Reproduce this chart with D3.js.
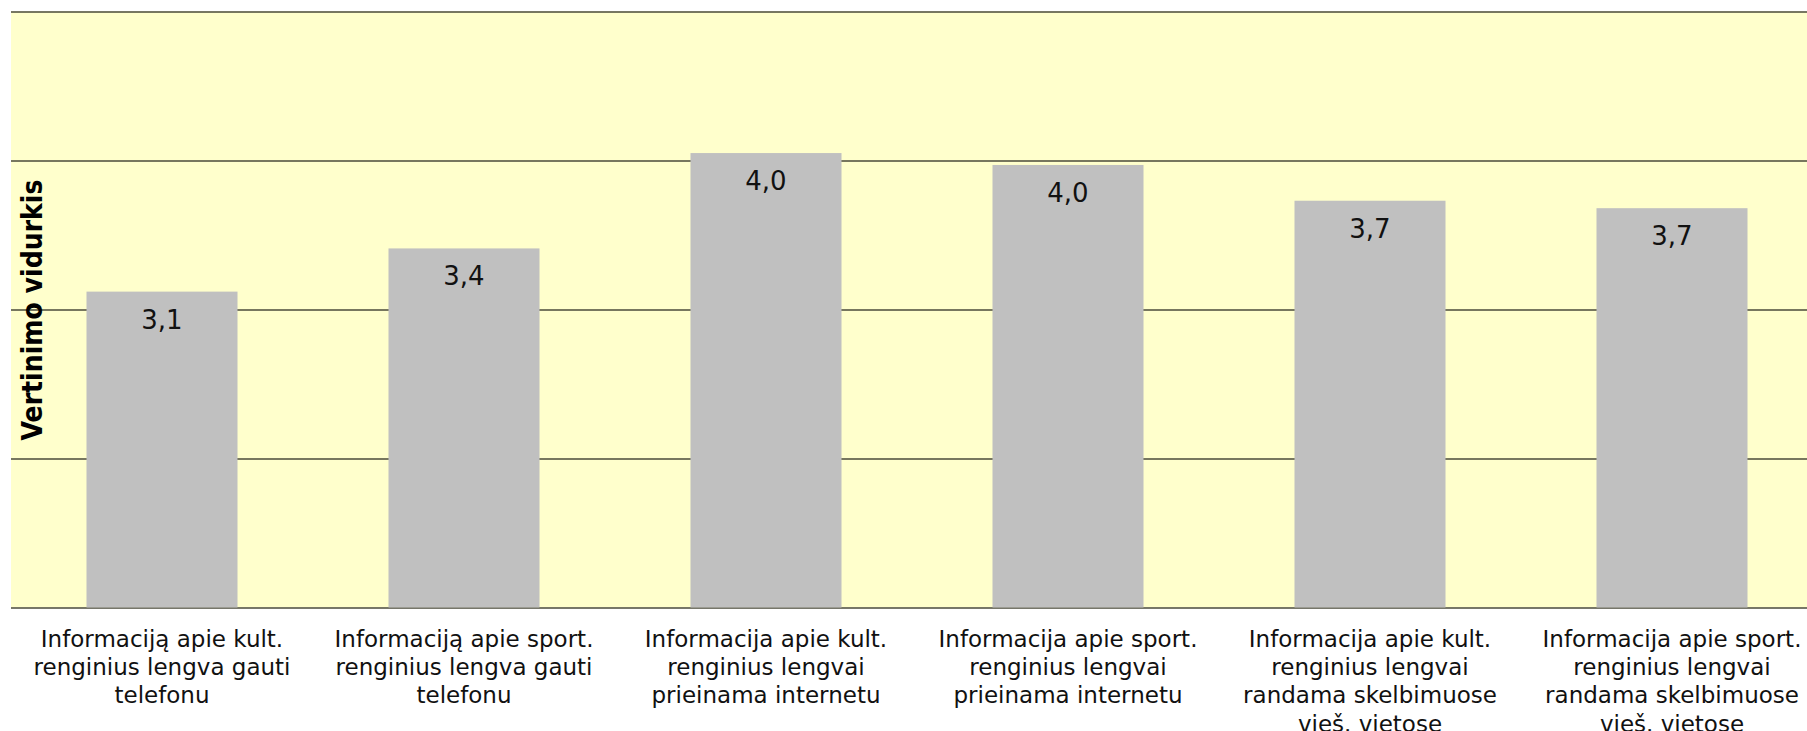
<!DOCTYPE html>
<html lang="lt">
<head>
<meta charset="UTF-8">
<title>Vertinimo vidurkis</title>
<script src="https://cdn.jsdelivr.net/npm/d3@7"></script>
<style>
    body { margin: 0; background: #ffffff; overflow: hidden; }
    svg { display: block; }
    .cat { font-family: "DejaVu Sans", Verdana, sans-serif; font-size: 23px; fill: #111; }
    .val { font-family: "DejaVu Sans", Verdana, sans-serif; font-size: 26px; fill: #111; }
    .ytitle { font-family: "DejaVu Sans Condensed", "DejaVu Sans", sans-serif; font-stretch: condensed; font-weight: bold; font-size: 28px; fill: #000; }
</style>
</head>
<body>
<div id="chart"></div>
<script>
// data
var categories = ["c1", "c2", "c3", "c4", "c5", "c6"];
var categoryLines = [
    ["Informaciją apie kult.", "renginius lengva gauti", "telefonu"],
    ["Informaciją apie sport.", "renginius lengva gauti", "telefonu"],
    ["Informacija apie kult.", "renginius lengvai", "prieinama internetu"],
    ["Informacija apie sport.", "renginius lengvai", "prieinama internetu"],
    ["Informacija apie kult.", "renginius lengvai", "randama skelbimuose", "vieš. vietose"],
    ["Informacija apie sport.", "renginius lengvai", "randama skelbimuose", "vieš. vietose"]
];
var values = [3.12, 3.41, 4.05, 3.97, 3.73, 3.68];
var valueLabels = ["3,1", "3,4", "4,0", "4,0", "3,7", "3,7"];
var yTicks = [1, 2, 3, 4, 5];
var yTitle = "Vertinimo vidurkis";

var W = 1807, H = 731;
var plot = { left: 11, right: 1823, top: 11.5, bottom: 607.5 };

var svg = d3.select("#chart").append("svg")
    .attr("width", W)
    .attr("height", H);

var x = d3.scaleBand()
    .domain(categories)
    .range([plot.left, plot.right])
    .paddingInner(0.5)
    .paddingOuter(0.25);

var y = d3.scaleLinear()
    .domain([1, 5])
    .range([plot.bottom, plot.top]);

// plot background
svg.append("rect")
    .attr("x", plot.left)
    .attr("y", plot.top)
    .attr("width", plot.right - plot.left)
    .attr("height", plot.bottom - plot.top)
    .attr("fill", "#ffffcc");

// gridlines
var grid = svg.append("g")
    .attr("transform", "translate(" + plot.left + ",0)")
    .call(d3.axisLeft(y).tickValues(yTicks).tickSize(-(plot.right - plot.left)).tickFormat(""));
grid.select(".domain").remove();
grid.selectAll(".tick line")
    .attr("stroke", "#4a4a3a")
    .attr("stroke-width", 1.5);

// bars
svg.selectAll(".bar")
    .data(values)
    .enter()
    .append("rect")
    .attr("class", "bar")
    .attr("x", (d, i) => x(categories[i]))
    .attr("y", d => y(d))
    .attr("width", x.bandwidth())
    .attr("height", d => y(1) - y(d))
    .attr("fill", "#c0c0c0");

// value labels inside bars
svg.selectAll(".val")
    .data(values)
    .enter()
    .append("text")
    .attr("class", "val")
    .attr("x", (d, i) => x(categories[i]) + x.bandwidth() / 2)
    .attr("y", d => y(d) + 37)
    .attr("text-anchor", "middle")
    .text((d, i) => valueLabels[i]);

// category labels
var xAxis = svg.append("g")
    .attr("transform", "translate(0," + plot.bottom + ")")
    .call(d3.axisBottom(x).tickSize(0).tickFormat(""));
xAxis.select(".domain").remove();

var catLabels = svg.selectAll(".cat")
    .data(categoryLines)
    .enter()
    .append("text")
    .attr("class", "cat")
    .attr("text-anchor", "middle")
    .attr("transform", (d, i) => "translate(" + (x(categories[i]) + x.bandwidth() / 2) + "," + (plot.bottom + 39) + ")");

catLabels.selectAll("tspan")
    .data(d => d)
    .enter()
    .append("tspan")
    .attr("x", 0)
    .attr("y", (d, j) => j * 28.4)
    .text(d => d);

// y axis title
svg.append("text")
    .attr("class", "ytitle")
    .attr("text-anchor", "middle")
    .attr("transform", "translate(42,310) rotate(-90)")
    .text(yTitle);
</script>
</body>
</html>
